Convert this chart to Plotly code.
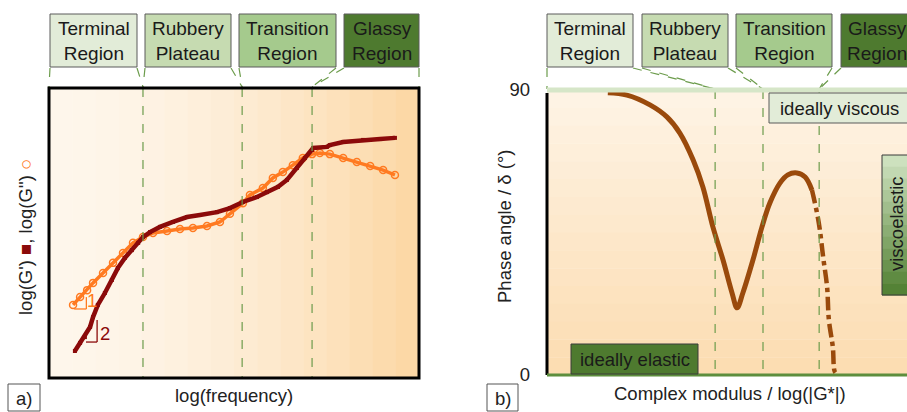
import plotly.graph_objects as go

W, H = 907, 412

# ---------------- data ----------------
# panel a) : log(frequency) vs log(G') / log(G'')  (arbitrary units 0..10)
freq_gp = [0.70, 0.84, 0.97, 1.11, 1.19, 1.32, 1.51, 1.70, 1.86, 2.05, 2.24, 2.41, 2.54, 2.73,
           3.00, 3.35, 3.73, 4.08, 4.54, 4.89, 5.24, 5.62, 5.89, 6.19, 6.43, 6.70, 6.92, 7.11,
           7.14, 7.51, 7.59, 7.95, 8.49, 8.95, 9.35]
log_gp = [0.93, 1.21, 1.41, 1.76, 2.10, 2.52, 2.93, 3.38, 3.79, 4.14, 4.41, 4.66, 4.86, 5.03,
          5.21, 5.38, 5.55, 5.62, 5.72, 5.86, 6.07, 6.24, 6.41, 6.59, 6.83, 7.24, 7.59, 7.86,
          7.93, 7.97, 8.03, 8.14, 8.21, 8.24, 8.28]
freq_gpp = [0.65, 0.84, 1.03, 1.19, 1.46, 1.73, 2.00, 2.27, 2.54, 2.81, 3.19, 3.54, 3.89, 4.27,
            4.62, 4.89, 5.24, 5.43, 5.78, 6.05, 6.32, 6.59, 6.86, 7.11, 7.32, 7.59, 7.95, 8.32,
            8.68, 9.03, 9.35]
log_gpp = [2.52, 2.79, 3.03, 3.28, 3.62, 3.97, 4.31, 4.66, 4.86, 5.00, 5.07, 5.14, 5.17, 5.24,
           5.38, 5.66, 6.03, 6.31, 6.55, 6.90, 7.10, 7.34, 7.59, 7.72, 7.76, 7.72, 7.59, 7.45,
           7.31, 7.17, 7.00]

# panel b) : log(|G*|) vs phase angle (degrees)
modulus = [1.69, 2.22, 2.86, 3.33, 3.69, 4.06, 4.33, 4.61, 4.89, 5.14, 5.28, 5.44, 5.72,
           5.97, 6.19, 6.47, 6.69, 6.94, 7.17, 7.36]
phase = [89.1, 88.4, 85.3, 81.5, 76.4, 67.9, 59.4, 46.7, 36.3, 25.9, 21.2, 25.9, 36.3,
         46.7, 54.3, 60.6, 63.2, 63.8, 62.5, 58.4]
modulus_tail = [7.36, 7.50, 7.58, 7.67, 7.78, 7.83, 7.94, 8.00, 8.08]
phase_tail = [58.4, 51.2, 45.8, 37.3, 27.8, 17.4, 8.8, 0.9, 0.3]

region_names = ["Terminal<br>Region", "Rubbery<br>Plateau", "Transition<br>Region", "Glassy<br>Region"]
region_fills = ["#e2ecd8", "#c6dbb1", "#a5ca8d", "#4e7a2f"]
bounds_a = [2.54, 5.22, 7.11]      # region borders, panel a (log frequency)
bounds_b = [4.67, 6.00, 7.56]      # region borders, panel b (log |G*|)
phase_ticks = [0, 90]

# ---------------- geometry helpers (pixels -> paper) ----------------
def X(p):
    return p / W

def Y(p):
    return 1 - p / H

A = dict(l=49, r=419, t=88, b=378)     # panel a plot area (px)
B = dict(l=547, r=907, t=90, b=375)    # panel b plot area (px)

def ax_px(v, P):      # data x (0..10) -> px
    return P["l"] + v / 10 * (P["r"] - P["l"])

FONT = "Liberation Sans, Arial, sans-serif"
TXT = "#222222"
GREEN_DASH = "#6c9c4c"
FS = 18.5

shapes = []
annots = []

def note(x, y, text, color="#1a1a1a", angle=0, size=FS):
    annots.append(dict(x=X(x), y=Y(y), xref="paper", yref="paper", text=text, showarrow=False,
                       xanchor="center", yanchor="middle", align="center", textangle=angle,
                       font=dict(family=FONT, size=size, color=color)))

def lerp(c1, c2, t):
    return "rgb(%d,%d,%d)" % tuple(round(a + (b - a) * t) for a, b in zip(c1, c2))

# background gradient panel a (horizontal)
n = 16
for i in range(n):
    t = (i / (n - 1)) ** 1.6
    x0 = A["l"] + (A["r"] - A["l"]) * i / n
    x1 = A["l"] + (A["r"] - A["l"]) * (i + 1) / n
    shapes.append(dict(type="rect", xref="paper", yref="paper", layer="below",
                       x0=X(x0), x1=X(x1) + 0.0005, y0=Y(A["b"]), y1=Y(A["t"]),
                       fillcolor=lerp((254, 246, 235), (252, 216, 166), t), line=dict(width=0)))
# background gradient panel b (vertical)
for i in range(n):
    t = i / (n - 1)
    y0 = B["t"] + (B["b"] - B["t"]) * i / n
    y1 = B["t"] + (B["b"] - B["t"]) * (i + 1) / n
    shapes.append(dict(type="rect", xref="paper", yref="paper", layer="below",
                       x0=X(B["l"]), x1=1.0, y0=Y(y1) - 0.001, y1=Y(y0),
                       fillcolor=lerp((254, 243, 228), (252, 221, 178), t), line=dict(width=0)))

# dashed region lines inside plots
for v in bounds_a:
    p = ax_px(v, A)
    shapes.append(dict(type="line", xref="paper", yref="paper", x0=X(p), x1=X(p),
                       y0=Y(A["t"]), y1=Y(A["b"]), line=dict(color=GREEN_DASH, width=1.2, dash="dash")))
for v in bounds_b:
    p = ax_px(v, B)
    shapes.append(dict(type="line", xref="paper", yref="paper", x0=X(p), x1=X(p),
                       y0=Y(B["t"]), y1=Y(B["b"]), line=dict(color=GREEN_DASH, width=1.2, dash="dash")))

# region header boxes + connectors
boxes_a = [(50, 137), (145, 231), (239, 336), (344, 419)]
boxes_b = [(547, 633), (642, 728), (736, 832), (841, 913)]
targets_a = [A["l"]] + [ax_px(v, A) for v in bounds_a] + [A["r"]]
targets_b = [B["l"]] + [ax_px(v, B) for v in bounds_b] + [None]
for boxes, targets, ytop in ((boxes_a, targets_a, A["t"]), (boxes_b, targets_b, B["t"])):
    for i, (bx0, bx1) in enumerate(boxes):
        shapes.append(dict(type="rect", xref="paper", yref="paper", x0=X(bx0), x1=X(bx1),
                           y0=Y(67), y1=Y(14), fillcolor=region_fills[i],
                           line=dict(color="#5a5a5a", width=1)))
        note((bx0 + bx1) / 2, 41, region_names[i], size=19)
        for edge, tgt in ((bx0, targets[i]), (bx1, targets[i + 1])):
            if tgt is None:
                continue
            shapes.append(dict(type="line", xref="paper", yref="paper", x0=X(edge), x1=X(tgt),
                               y0=Y(68), y1=Y(ytop - 1),
                               line=dict(color=GREEN_DASH, width=1.2, dash="dash")))

# panel a frame
shapes.append(dict(type="rect", xref="paper", yref="paper", x0=X(A["l"]), x1=X(A["r"]),
                   y0=Y(A["b"]), y1=Y(A["t"]), line=dict(color="black", width=3)))

# panel b frame pieces
shapes.append(dict(type="line", xref="paper", yref="paper", x0=X(B["l"]), x1=1.0,
                   y0=Y(B["t"]), y1=Y(B["t"]), line=dict(color="#d6e6c8", width=5)))
shapes.append(dict(type="line", xref="paper", yref="paper", x0=X(B["l"]), x1=X(B["l"]),
                   y0=Y(B["b"]), y1=Y(B["t"] + 3), line=dict(color="black", width=3)))
shapes.append(dict(type="line", xref="paper", yref="paper", x0=X(B["l"]), x1=1.0,
                   y0=Y(B["b"]), y1=Y(B["b"]), line=dict(color="#5d8e3d", width=3)))

# ideally viscous box
shapes.append(dict(type="rect", xref="paper", yref="paper", x0=X(769), x1=X(910),
                   y0=Y(123), y1=Y(93), fillcolor="#e2ecd8", line=dict(color="#5a5a5a", width=1)))
note(839, 108, "ideally viscous")
# ideally elastic box
shapes.append(dict(type="rect", xref="paper", yref="paper", x0=X(571), x1=X(698),
                   y0=Y(374), y1=Y(344), fillcolor="#4e7a2f", line=dict(color="#3a3a3a", width=1)))
note(634.5, 359, "ideally elastic")
# viscoelastic box (vertical gradient)
m = 12
for i in range(m):
    t = i / (m - 1)
    y0 = 155 + 140 * i / m
    y1 = 155 + 140 * (i + 1) / m
    shapes.append(dict(type="rect", xref="paper", yref="paper", x0=X(882), x1=X(915),
                       y0=Y(y1) - 0.001, y1=Y(y0), fillcolor=lerp((205, 225, 190), (84, 130, 54), t),
                       line=dict(width=0)))
shapes.append(dict(type="rect", xref="paper", yref="paper", x0=X(882), x1=X(915),
                   y0=Y(295), y1=Y(155), line=dict(color="#3a3a3a", width=1)))
note(896, 224, "viscoelastic", angle=-90)

# slope triangles (panel a, data coords)
shapes += [
    dict(type="line", xref="x", yref="y", x0=0.68, x1=1.01, y0=2.38, y1=2.38, line=dict(color="#ff7a21", width=1.3)),
    dict(type="line", xref="x", yref="y", x0=1.01, x1=1.01, y0=2.38, y1=2.79, line=dict(color="#ff7a21", width=1.3)),
    dict(type="line", xref="x", yref="y", x0=1.00, x1=1.30, y0=1.24, y1=1.24, line=dict(color="#8b0a0a", width=1.3)),
    dict(type="line", xref="x", yref="y", x0=1.30, x1=1.30, y0=1.24, y1=2.00, line=dict(color="#8b0a0a", width=1.3)),
]
note(92, 300, "1", color="#ff7a21")
note(105, 333, "2", color="#8b0a0a")

# axis titles & panel labels
note(25, 237, "log(G') <span style='color:#8b0a0a'>■</span>, log(G'') <span style='color:#ff7a21'>○</span>",
     color=TXT, angle=-90)
note(234, 395, "log(frequency)", color=TXT)
note(504, 227, "Phase angle / δ (°)", color=TXT, angle=-90)
note(730, 393, "Complex modulus / log(|G*|)", color=TXT)
for lbl, x0, x1 in (("a)", 8, 40), ("b)", 487, 518)):
    shapes.append(dict(type="rect", xref="paper", yref="paper", x0=X(x0), x1=X(x1), y0=Y(411),
                       y1=Y(384), line=dict(color="#555555", width=1), fillcolor="white"))
    note((x0 + x1) / 2, 398, lbl, color=TXT)

fig = go.Figure()
fig.add_trace(go.Scatter(x=freq_gpp, y=log_gpp, mode="lines+markers", line=dict(color="#ff7a21", width=3.5),
                         marker=dict(symbol="circle-open", size=7, color="#ff7a21", line=dict(width=1.5)),
                         xaxis="x", yaxis="y", showlegend=False))
fig.add_trace(go.Scatter(x=freq_gp, y=log_gp, mode="lines+markers", line=dict(color="#8b0a0a", width=4.5),
                         marker=dict(symbol="square", size=4, color="#8b0a0a"),
                         xaxis="x", yaxis="y", showlegend=False))
fig.add_trace(go.Scatter(x=modulus, y=phase, mode="lines", line=dict(color="#9a4a0c", width=5, shape="spline"),
                         xaxis="x2", yaxis="y2", showlegend=False))
fig.add_trace(go.Scatter(x=modulus_tail, y=phase_tail, mode="lines", line=dict(color="#9a4a0c", width=4.5, dash="dashdot", shape="spline"),
                         xaxis="x2", yaxis="y2", showlegend=False))

noax = dict(showgrid=False, zeroline=False, showline=False, showticklabels=False, ticks="")
fig.update_layout(
    width=W, height=H, margin=dict(l=0, r=0, t=0, b=0, pad=0, autoexpand=False),
    paper_bgcolor="white", plot_bgcolor="rgba(0,0,0,0)",
    xaxis=dict(domain=[X(A["l"]), X(A["r"])], range=[0, 10], **noax),
    yaxis=dict(domain=[Y(A["b"]), Y(A["t"])], range=[0, 10], **noax),
    xaxis2=dict(domain=[X(B["l"]), 1.0], range=[0, 10], anchor="y2", **noax),
    yaxis2=dict(domain=[Y(B["b"]), Y(B["t"])], range=[0, 90], anchor="x2",
                showgrid=False, zeroline=False, showline=False, ticks="",
                tickvals=phase_ticks, ticktext=[str(v) for v in phase_ticks],
                tickfont=dict(family=FONT, size=FS, color=TXT), ticklabelstandoff=16),
    shapes=shapes, annotations=annots,
    font=dict(family=FONT, size=FS, color=TXT),
)
fig.write_html("out.html")
